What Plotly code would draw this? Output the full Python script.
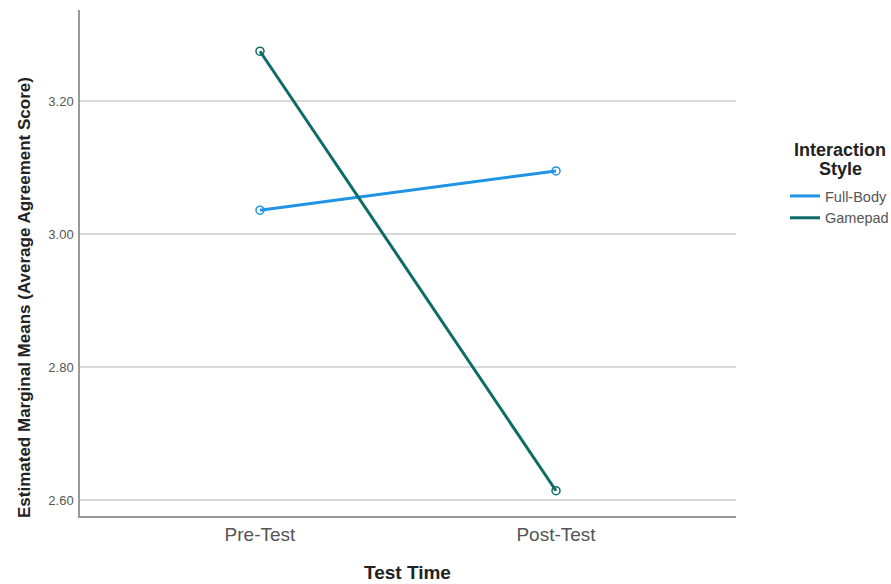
import plotly.graph_objects as go

categories = ["Pre-Test", "Post-Test"]
series_names = ["Full-Body", "Gamepad"]
full_body = [3.036, 3.095]
gamepad = [3.275, 2.614]
y_ticks = [2.60, 2.80, 3.00, 3.20]
y_tick_labels = ["2.60", "2.80", "3.00", "3.20"]
colors = ["#1f93e6", "#0e6b67"]

# plot area wanted at x 80..736, y 10..516
PX0, PX1, PY0, PY1 = 80, 736, 10, 516
W, H = 891, 584
def px(x):
    return (x - PX0) / (PX1 - PX0)
def py(y):
    return (PY1 - y) / (PY1 - PY0)

fig = go.Figure()
for name, vals, col in zip(series_names, [full_body, gamepad], colors):
    fig.add_trace(go.Scatter(
        x=categories, y=vals, name=name, mode="lines+markers",
        line=dict(color=col, width=3),
        marker=dict(symbol="circle-open", size=8, color=col, line=dict(width=1.5)),
        showlegend=False,
    ))
for name, col in zip(series_names, colors):
    fig.add_trace(go.Scatter(
        x=[None], y=[None], name=name, mode="lines",
        line=dict(color=col, width=3), showlegend=True,
    ))

fig.update_layout(
    width=W, height=H,
    margin=dict(l=PX0, r=W - PX1, t=PY0, b=H - PY1, autoexpand=False),
    plot_bgcolor="white", paper_bgcolor="white",
    font=dict(family="Liberation Sans, Arial, sans-serif", color="#444"),
    xaxis=dict(
        type="category", range=[-0.608, 1.608], automargin=False,
        showgrid=False, showline=True, linecolor="#999", linewidth=1.5,
        ticks="", tickfont=dict(size=19, color="#555"),
        fixedrange=True,
    ),
    yaxis=dict(
        range=[2.576, 3.337], automargin=False,
        tickvals=y_ticks, ticktext=y_tick_labels,
        showgrid=True, gridcolor="#d9d9d9", gridwidth=1.5,
        showline=True, linecolor="#999", linewidth=1.5,
        zeroline=False, ticks="", ticklabelstandoff=2,
        tickfont=dict(size=13, color="#555"),
    ),
    legend=dict(
        x=px(785), y=py(180), xanchor="left", yanchor="top",
        font=dict(size=14.5, color="#555"),
        itemwidth=30, tracegroupgap=0,
        bgcolor="rgba(0,0,0,0)",
    ),
    showlegend=True,
)

# axis titles
fig.add_annotation(
    text="<b>Test Time</b>", xref="paper", yref="paper",
    x=px(407), y=py(572), xanchor="center", yanchor="middle",
    showarrow=False, font=dict(size=19, color="#222"),
)
fig.add_annotation(
    text="<b>Estimated Marginal Means (Average Agreement Score)</b>",
    xref="paper", yref="paper", textangle=-90,
    x=px(24), y=py(298), xanchor="center", yanchor="middle",
    showarrow=False, font=dict(size=17, color="#222"),
)
# legend title
fig.add_annotation(
    text="<b>Interaction</b>", xref="paper", yref="paper",
    x=px(840), y=py(150), xanchor="center", yanchor="middle",
    showarrow=False, font=dict(size=18, color="#222"),
)
fig.add_annotation(
    text="<b>Style</b>", xref="paper", yref="paper",
    x=px(840), y=py(169), xanchor="center", yanchor="middle",
    showarrow=False, font=dict(size=18, color="#222"),
)

fig.write_html(
    "out.html",
    config={"displayModeBar": False},
    post_script="document.body.style.margin='0';document.documentElement.style.overflow='hidden';",
)
